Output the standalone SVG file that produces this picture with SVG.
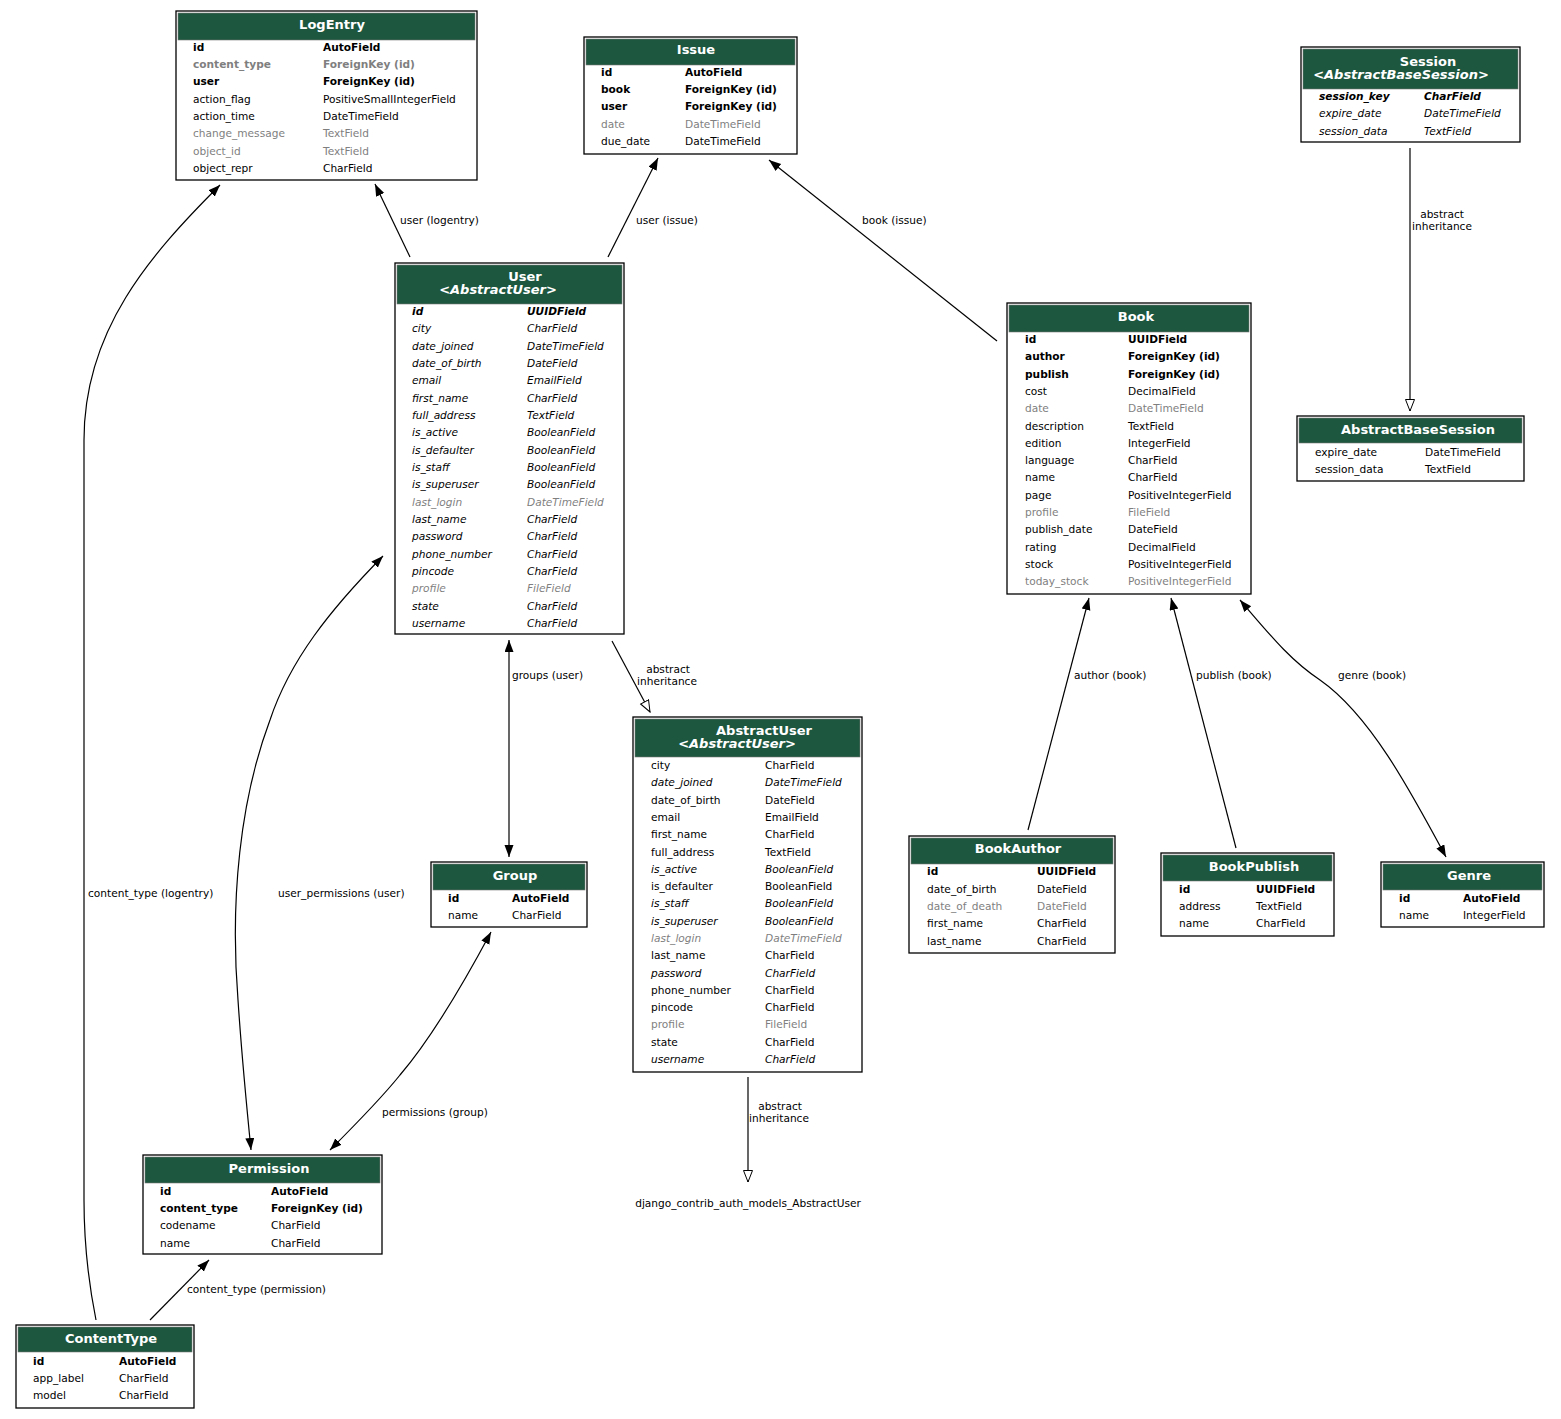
<svg xmlns="http://www.w3.org/2000/svg" width="1561" height="1419" viewBox="0 0 1561 1419">
<style>
text{font-family:"DejaVu Sans","Liberation Sans",sans-serif;font-size:10.6px;fill:#000}
.box{fill:#fff;stroke:#000;stroke-width:1.3}
.hd{fill:#1d573f;stroke:#777;stroke-width:0.6}
.ht{font-size:13px;font-weight:bold;fill:#fff;text-anchor:middle}
.hi{font-style:italic}
.b{font-weight:bold}
.g{fill:#7f7f7f}
.i{font-style:italic}
.e{fill:none;stroke:#000;stroke-width:1.2}
.lb{text-anchor:middle}
</style>
<defs>
<marker id="a" markerWidth="12" markerHeight="10" refX="12" refY="4.5" orient="auto-start-reverse" markerUnits="userSpaceOnUse" viewBox="0 0 12 10">
<path d="M0,0 L12,4.5 L0,9 z" fill="#000"/>
</marker>
<marker id="h" markerWidth="13" markerHeight="11" refX="12" refY="5" orient="auto" markerUnits="userSpaceOnUse" viewBox="0 0 13 11">
<path d="M0.5,0.5 L12,5 L0.5,9.5 z" fill="#fff" stroke="#000" stroke-width="1"/>
</marker>
</defs>
<rect width="1561" height="1419" fill="#fff"/>

<g id="connectors">
<path class="e" d="M410,257 L375,184" marker-end="url(#a)"/>
<text x="400" y="224">user (logentry)</text>
<path class="e" d="M608,257 L658,158" marker-end="url(#a)"/>
<text x="636" y="224">user (issue)</text>
<path class="e" d="M997,341 L769,160" marker-end="url(#a)"/>
<text x="862" y="224">book (issue)</text>
<path class="e" d="M1410,148 L1410,411" marker-end="url(#h)"/>
<text class="lb" x="1442" y="218">abstract</text>
<text class="lb" x="1442" y="230">inheritance</text>
<path class="e" d="M612,641 L650,712" marker-end="url(#h)"/>
<text class="lb" x="668" y="673">abstract</text>
<text class="lb" x="667" y="685">inheritance</text>
<path class="e" d="M509,640 L509,857" marker-start="url(#a)" marker-end="url(#a)"/>
<text x="512" y="679">groups (user)</text>
<path class="e" d="M383,556 C330,610 290,660 270,720 C240,800 230,900 238,1000 C242,1060 247,1110 251,1150" marker-start="url(#a)" marker-end="url(#a)"/>
<text x="278" y="897">user_permissions (user)</text>
<path class="e" d="M491,932 C460,990 430,1040 400,1075 C380,1100 355,1125 330,1150" marker-start="url(#a)" marker-end="url(#a)"/>
<text x="382" y="1116">permissions (group)</text>
<path class="e" d="M96,1320 C88,1280 84,1240 84,1200 L84,440 C84,330 150,255 220,185" marker-end="url(#a)"/>
<text x="88" y="897">content_type (logentry)</text>
<path class="e" d="M150,1320 L209,1260" marker-end="url(#a)"/>
<text x="187" y="1293">content_type (permission)</text>
<path class="e" d="M748,1077 L748,1182" marker-end="url(#h)"/>
<text class="lb" x="780" y="1110">abstract</text>
<text class="lb" x="779" y="1122">inheritance</text>
<path class="e" d="M1028,830 L1089,598" marker-end="url(#a)"/>
<text x="1074" y="679">author (book)</text>
<path class="e" d="M1236,848 L1171,598" marker-end="url(#a)"/>
<text x="1196" y="679">publish (book)</text>
<path class="e" d="M1240,600 C1270,635 1290,660 1320,680 C1370,715 1410,790 1446,857" marker-start="url(#a)" marker-end="url(#a)"/>
<text x="1338" y="679">genre (book)</text>
</g>

<g id="LogEntry">
<rect class="box" x="176" y="11" width="301" height="169"/>
<rect class="hd" x="178" y="13" width="297" height="27"/>
<text class="ht" x="332" y="28.5">LogEntry</text>
<text class="b" x="193" y="51">id</text><text class="b" x="323" y="51">AutoField</text>
<text class="b g" x="193" y="68">content_type</text><text class="b g" x="323" y="68">ForeignKey (id)</text>
<text class="b" x="193" y="85">user</text><text class="b" x="323" y="85">ForeignKey (id)</text>
<text x="193" y="103">action_flag</text><text x="323" y="103">PositiveSmallIntegerField</text>
<text x="193" y="120">action_time</text><text x="323" y="120">DateTimeField</text>
<text class="g" x="193" y="137">change_message</text><text class="g" x="323" y="137">TextField</text>
<text class="g" x="193" y="155">object_id</text><text class="g" x="323" y="155">TextField</text>
<text x="193" y="172">object_repr</text><text x="323" y="172">CharField</text>
</g>

<g id="Issue">
<rect class="box" x="584" y="37" width="213" height="117"/>
<rect class="hd" x="586" y="39" width="209" height="26"/>
<text class="ht" x="696" y="53.5">Issue</text>
<text class="b" x="601" y="76">id</text><text class="b" x="685" y="76">AutoField</text>
<text class="b" x="601" y="93">book</text><text class="b" x="685" y="93">ForeignKey (id)</text>
<text class="b" x="601" y="110">user</text><text class="b" x="685" y="110">ForeignKey (id)</text>
<text class="g" x="601" y="128">date</text><text class="g" x="685" y="128">DateTimeField</text>
<text x="601" y="145">due_date</text><text x="685" y="145">DateTimeField</text>
</g>

<g id="Session">
<rect class="box" x="1301" y="47" width="219" height="95"/>
<rect class="hd" x="1303" y="49" width="215" height="40"/>
<text class="ht" x="1428" y="65.5">Session</text>
<text class="ht hi" x="1401" y="78.5">&lt;AbstractBaseSession&gt;</text>
<text class="b i" x="1319" y="100">session_key</text><text class="b i" x="1424" y="100">CharField</text>
<text class="i" x="1319" y="117">expire_date</text><text class="i" x="1424" y="117">DateTimeField</text>
<text class="i" x="1319" y="135">session_data</text><text class="i" x="1424" y="135">TextField</text>
</g>

<g id="AbstractBaseSession">
<rect class="box" x="1297" y="416" width="227" height="65"/>
<rect class="hd" x="1299" y="418" width="223" height="25"/>
<text class="ht" x="1418" y="433.5">AbstractBaseSession</text>
<text x="1315" y="456">expire_date</text><text x="1425" y="456">DateTimeField</text>
<text x="1315" y="473">session_data</text><text x="1425" y="473">TextField</text>
</g>

<g id="User">
<rect class="box" x="395" y="263" width="229" height="371"/>
<rect class="hd" x="397" y="265" width="225" height="39"/>
<text class="ht" x="525" y="280.5">User</text>
<text class="ht hi" x="498" y="293.5">&lt;AbstractUser&gt;</text>
<g class="i">
<text class="b" x="412" y="315">id</text><text class="b" x="527" y="315">UUIDField</text>
<text x="412" y="332.3">city</text><text x="527" y="332.3">CharField</text>
<text x="412" y="349.7">date_joined</text><text x="527" y="349.7">DateTimeField</text>
<text x="412" y="367">date_of_birth</text><text x="527" y="367">DateField</text>
<text x="412" y="384.3">email</text><text x="527" y="384.3">EmailField</text>
<text x="412" y="401.7">first_name</text><text x="527" y="401.7">CharField</text>
<text x="412" y="419">full_address</text><text x="527" y="419">TextField</text>
<text x="412" y="436.3">is_active</text><text x="527" y="436.3">BooleanField</text>
<text x="412" y="453.7">is_defaulter</text><text x="527" y="453.7">BooleanField</text>
<text x="412" y="471">is_staff</text><text x="527" y="471">BooleanField</text>
<text x="412" y="488.3">is_superuser</text><text x="527" y="488.3">BooleanField</text>
<text class="g" x="412" y="505.7">last_login</text><text class="g" x="527" y="505.7">DateTimeField</text>
<text x="412" y="523">last_name</text><text x="527" y="523">CharField</text>
<text x="412" y="540.3">password</text><text x="527" y="540.3">CharField</text>
<text x="412" y="557.7">phone_number</text><text x="527" y="557.7">CharField</text>
<text x="412" y="575">pincode</text><text x="527" y="575">CharField</text>
<text class="g" x="412" y="592.3">profile</text><text class="g" x="527" y="592.3">FileField</text>
<text x="412" y="609.7">state</text><text x="527" y="609.7">CharField</text>
<text x="412" y="627">username</text><text x="527" y="627">CharField</text>
</g>
</g>

<g id="Book">
<rect class="box" x="1007" y="303" width="244" height="291"/>
<rect class="hd" x="1009" y="305" width="240" height="27"/>
<text class="ht" x="1136" y="320.5">Book</text>
<text class="b" x="1025" y="343">id</text><text class="b" x="1128" y="343">UUIDField</text>
<text class="b" x="1025" y="360.3">author</text><text class="b" x="1128" y="360.3">ForeignKey (id)</text>
<text class="b" x="1025" y="377.6">publish</text><text class="b" x="1128" y="377.6">ForeignKey (id)</text>
<text x="1025" y="394.9">cost</text><text x="1128" y="394.9">DecimalField</text>
<text class="g" x="1025" y="412.2">date</text><text class="g" x="1128" y="412.2">DateTimeField</text>
<text x="1025" y="429.5">description</text><text x="1128" y="429.5">TextField</text>
<text x="1025" y="446.7">edition</text><text x="1128" y="446.7">IntegerField</text>
<text x="1025" y="464">language</text><text x="1128" y="464">CharField</text>
<text x="1025" y="481.3">name</text><text x="1128" y="481.3">CharField</text>
<text x="1025" y="498.6">page</text><text x="1128" y="498.6">PositiveIntegerField</text>
<text class="g" x="1025" y="515.9">profile</text><text class="g" x="1128" y="515.9">FileField</text>
<text x="1025" y="533.2">publish_date</text><text x="1128" y="533.2">DateField</text>
<text x="1025" y="550.5">rating</text><text x="1128" y="550.5">DecimalField</text>
<text x="1025" y="567.8">stock</text><text x="1128" y="567.8">PositiveIntegerField</text>
<text class="g" x="1025" y="585.1">today_stock</text><text class="g" x="1128" y="585.1">PositiveIntegerField</text>
</g>

<g id="AbstractUser">
<rect class="box" x="633" y="717" width="229" height="355"/>
<rect class="hd" x="635" y="719" width="225" height="38"/>
<text class="ht" x="764" y="734.5">AbstractUser</text>
<text class="ht hi" x="737" y="747.5">&lt;AbstractUser&gt;</text>
<text x="651" y="769">city</text><text x="765" y="769">CharField</text>
<text class="i" x="651" y="786.3">date_joined</text><text class="i" x="765" y="786.3">DateTimeField</text>
<text x="651" y="803.6">date_of_birth</text><text x="765" y="803.6">DateField</text>
<text x="651" y="820.9">email</text><text x="765" y="820.9">EmailField</text>
<text x="651" y="838.2">first_name</text><text x="765" y="838.2">CharField</text>
<text x="651" y="855.5">full_address</text><text x="765" y="855.5">TextField</text>
<text class="i" x="651" y="872.7">is_active</text><text class="i" x="765" y="872.7">BooleanField</text>
<text x="651" y="890">is_defaulter</text><text x="765" y="890">BooleanField</text>
<text class="i" x="651" y="907.3">is_staff</text><text class="i" x="765" y="907.3">BooleanField</text>
<text class="i" x="651" y="924.6">is_superuser</text><text class="i" x="765" y="924.6">BooleanField</text>
<text class="i g" x="651" y="941.9">last_login</text><text class="i g" x="765" y="941.9">DateTimeField</text>
<text x="651" y="959.2">last_name</text><text x="765" y="959.2">CharField</text>
<text class="i" x="651" y="976.5">password</text><text class="i" x="765" y="976.5">CharField</text>
<text x="651" y="993.8">phone_number</text><text x="765" y="993.8">CharField</text>
<text x="651" y="1011.1">pincode</text><text x="765" y="1011.1">CharField</text>
<text class="g" x="651" y="1028.4">profile</text><text class="g" x="765" y="1028.4">FileField</text>
<text x="651" y="1045.6">state</text><text x="765" y="1045.6">CharField</text>
<text class="i" x="651" y="1062.9">username</text><text class="i" x="765" y="1062.9">CharField</text>
</g>

<g id="django_contrib_auth_models_AbstractUser">
<text class="lb" x="748" y="1207">django_contrib_auth_models_AbstractUser</text>
</g>

<g id="Group">
<rect class="box" x="431" y="862" width="156" height="65"/>
<rect class="hd" x="433" y="864" width="152" height="26"/>
<text class="ht" x="515" y="879.5">Group</text>
<text class="b" x="448" y="902">id</text><text class="b" x="512" y="902">AutoField</text>
<text x="448" y="919">name</text><text x="512" y="919">CharField</text>
</g>

<g id="Permission">
<rect class="box" x="143" y="1155" width="239" height="99"/>
<rect class="hd" x="145" y="1157" width="235" height="26"/>
<text class="ht" x="269" y="1172.5">Permission</text>
<text class="b" x="160" y="1195">id</text><text class="b" x="271" y="1195">AutoField</text>
<text class="b" x="160" y="1212">content_type</text><text class="b" x="271" y="1212">ForeignKey (id)</text>
<text x="160" y="1229">codename</text><text x="271" y="1229">CharField</text>
<text x="160" y="1247">name</text><text x="271" y="1247">CharField</text>
</g>

<g id="ContentType">
<rect class="box" x="16" y="1325" width="178" height="83"/>
<rect class="hd" x="18" y="1327" width="174" height="25"/>
<text class="ht" x="111" y="1342.5">ContentType</text>
<text class="b" x="33" y="1365">id</text><text class="b" x="119" y="1365">AutoField</text>
<text x="33" y="1382">app_label</text><text x="119" y="1382">CharField</text>
<text x="33" y="1399">model</text><text x="119" y="1399">CharField</text>
</g>

<g id="BookAuthor">
<rect class="box" x="909" y="836" width="206" height="117"/>
<rect class="hd" x="911" y="838" width="202" height="26"/>
<text class="ht" x="1018" y="852.5">BookAuthor</text>
<text class="b" x="927" y="875">id</text><text class="b" x="1037" y="875">UUIDField</text>
<text x="927" y="893">date_of_birth</text><text x="1037" y="893">DateField</text>
<text class="g" x="927" y="910">date_of_death</text><text class="g" x="1037" y="910">DateField</text>
<text x="927" y="927">first_name</text><text x="1037" y="927">CharField</text>
<text x="927" y="945">last_name</text><text x="1037" y="945">CharField</text>
</g>

<g id="BookPublish">
<rect class="box" x="1161" y="853" width="173" height="83"/>
<rect class="hd" x="1163" y="855" width="169" height="26"/>
<text class="ht" x="1254" y="870.5">BookPublish</text>
<text class="b" x="1179" y="893">id</text><text class="b" x="1256" y="893">UUIDField</text>
<text x="1179" y="910">address</text><text x="1256" y="910">TextField</text>
<text x="1179" y="927">name</text><text x="1256" y="927">CharField</text>
</g>

<g id="Genre">
<rect class="box" x="1381" y="862" width="163" height="65"/>
<rect class="hd" x="1383" y="864" width="159" height="26"/>
<text class="ht" x="1469" y="879.5">Genre</text>
<text class="b" x="1399" y="902">id</text><text class="b" x="1463" y="902">AutoField</text>
<text x="1399" y="919">name</text><text x="1463" y="919">IntegerField</text>
</g>
</svg>
